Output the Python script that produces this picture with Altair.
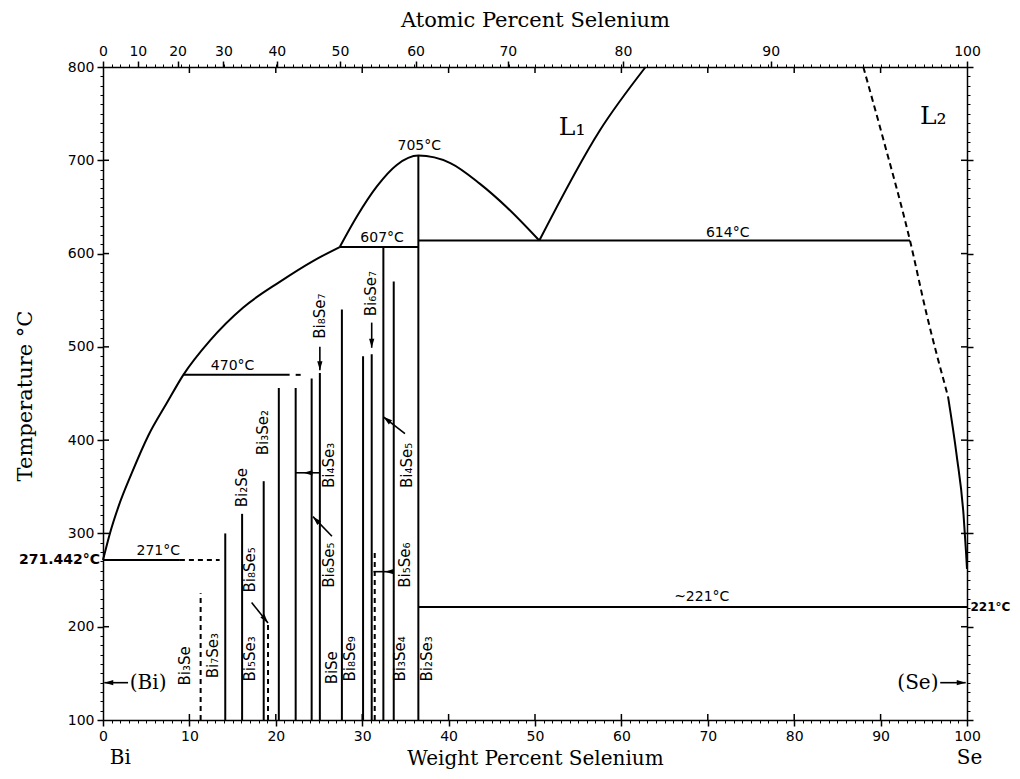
import math
import altair as alt
import pandas as pd

# ---------------- constants ----------------
M_SE, M_BI = 78.971, 208.980
W, H = 864, 653
X_DOM, Y_DOM = [0, 100], [100, 800]
PX_X = W / (X_DOM[1] - X_DOM[0])
PX_Y = H / (Y_DOM[1] - Y_DOM[0])

# ---------------- data ----------------
# liquidus / boundary curves (wt% Se, T in C)
liq_left_wt = [0, 0.8, 1.8, 3.3, 5.25, 7.4, 9.3, 12.4, 16.2, 20.5, 24.3, 27.4]
liq_left_T = [271.4, 300, 329, 364, 405, 440, 470, 507, 542, 570, 592, 607]
dome_wt = [27.4, 29.4, 31.7, 34.0, 36.5, 40.2, 43.6, 46.7, 50.5]
dome_T = [607, 640, 672, 695, 705, 697, 675, 650, 614]
l1_wt = [50.5, 57.5, 62.8]
l1_T = [614, 732, 800]
l2_solid_wt = [97.8, 98.8, 99.6, 99.9, 100]
l2_solid_T = [447, 384, 320, 278, 262]
l2_dash_wt = [88.0, 90.3, 93.4, 95.3, 97.8]
l2_dash_T = [800, 723, 614, 536, 447]

# isotherms (solid)
iso_T = [271.4, 470, 607, 614, 221]
iso_from = [0, 9.3, 27.4, 36.5, 36.5]
iso_to = [8.9, 21.6, 36.5, 93.4, 100]
# isotherms (dashed parts)
iso_dash_T = [271.4, 470]
iso_dash_from = [8.9, 22.3]
iso_dash_to = [13.5, 23.2]

# compound lines (solid)
comp_wt = [14.15, 16.1, 18.6, 20.35, 22.3, 24.15, 25.1, 27.65, 30.1, 31.1, 32.45, 33.65, 36.5]
comp_Tmax = [300, 321, 356, 456, 456, 466, 472, 540, 490, 492, 607, 570, 705]
# compound lines (dashed)
dash_comp_wt = [11.3, 19.1, 31.45]
dash_comp_Tmax = [236, 204, 280]

# arrows: tail -> tip, and arrowhead tip position
arrow_x1 = [25.1, 31.1, 22.3, 26.5, 34.95, 33.4, 17.2, 2.9, 96.9]
arrow_T1 = [500, 526, 365, 297, 407, 259, 226, 140, 140]
arrow_x2 = [25.1, 31.1, 25.1, 24.3, 32.45, 31.3, 19.1, 0.15, 99.85]
arrow_T2 = [475, 499, 365, 318, 425, 259, 204, 140, 140]
head_wt = [25.1, 31.1, 23.2, 24.3, 32.45, 32.6, 19.1, 0.15, 99.85]
head_T = [475, 499, 365, 318, 425, 259, 204, 140, 140]
head_from_wt = [25.1, 31.1, 25.1, 26.5, 34.95, 33.4, 17.2, 2.9, 96.9]
head_from_T = [500, 526, 365, 297, 407, 259, 226, 140, 140]

# annotations
ann_text = ["705°C", "607°C", "614°C", "470°C", "271°C", "~221°C"]
ann_wt = [36.6, 32.3, 72.3, 15.0, 6.4, 69.3]
ann_T = [715.5, 616.5, 622, 479.5, 281, 232]

side_left_text, side_left_wt, side_left_T = ["271.442°C"], [-0.35], [271.4]
side_right_text, side_right_wt, side_right_T = ["221°C"], [100.4], [221]

cmp_lbl = ["Bi₃Se", "Bi₇Se₃", "Bi₅Se₃", "BiSe", "Bi₈Se₉", "Bi₃Se₄", "Bi₂Se₃",
           "Bi₂Se", "Bi₈Se₅", "Bi₃Se₂", "Bi₈Se₇", "Bi₄Se₃", "Bi₆Se₅", "Bi₆Se₇",
           "Bi₄Se₅", "Bi₅Se₆"]
cmp_lbl_wt = [9.5, 12.7, 17.0, 26.5, 28.6, 34.4, 37.5,
              16.1, 17.0, 18.55, 25.1, 26.2, 26.2, 31.0,
              35.15, 34.95]
cmp_lbl_T = [158, 169, 165.5, 156, 165.5, 165.5, 165.5,
             349, 261, 408, 533, 373, 266, 557,
             373, 266]

liq_lbl, liq_lbl_wt, liq_lbl_T = ["L₁", "L₂"], [54.3, 96.1], [736, 747]
phase_left, phase_left_wt, phase_left_T = ["(Bi)"], [3.1], [140]
phase_right, phase_right_wt, phase_right_T = ["(Se)"], [96.7], [140]
elem_lbl, elem_wt, elem_T = ["Bi", "Se"], [2.0, 100.3], [59.5, 59.5]

wt_major = list(range(0, 101, 10))
wt_minor = list(range(0, 101, 1))
T_major = list(range(100, 801, 100))
T_minor = list(range(100, 801, 10))
atomic_major = list(range(0, 101, 10))
wt_inner = list(range(10, 100, 10))
T_inner = list(range(200, 800, 100))

# ---------------- tables ----------------
def curve_df(name, xs, ts):
    return pd.DataFrame({"wt": xs, "T": ts, "curve": name, "i": list(range(len(xs)))})

curves = pd.concat([
    curve_df("liq_left", liq_left_wt, liq_left_T),
    curve_df("dome", dome_wt, dome_T),
    curve_df("l1", l1_wt, l1_T),
    curve_df("l2s", l2_solid_wt, l2_solid_T),
])
dash_curve = curve_df("l2d", l2_dash_wt, l2_dash_T)

iso_df = pd.DataFrame({"x1": iso_from, "x2": iso_to, "T": iso_T})
vert_df = pd.DataFrame({"wt": comp_wt, "Tlo": [Y_DOM[0]] * len(comp_wt), "Thi": comp_Tmax})
dash_seg = pd.DataFrame({
    "x1": iso_dash_from + dash_comp_wt,
    "x2": iso_dash_to + dash_comp_wt,
    "y1": iso_dash_T + [Y_DOM[0]] * len(dash_comp_wt),
    "y2": iso_dash_T + dash_comp_Tmax,
})
arrow_df = pd.DataFrame({"x1": arrow_x1, "x2": arrow_x2, "y1": arrow_T1, "y2": arrow_T2})
angles = []
for a, b, c, d in zip(head_from_wt, head_from_T, head_wt, head_T):
    dx = (c - a) * PX_X
    dy = -(d - b) * PX_Y
    angles.append(math.degrees(math.atan2(dx, -dy)) % 360)
head_df = pd.DataFrame({"wt": head_wt, "T": head_T, "ang": angles})

tick_len_x = 6 / PX_X
tick_len_y = 6 / PX_Y
inner = pd.concat([
    pd.DataFrame({"x1": wt_inner, "x2": wt_inner, "y1": [Y_DOM[0]] * 9, "y2": [Y_DOM[0] + tick_len_y] * 9}),
    pd.DataFrame({"x1": wt_inner, "x2": wt_inner, "y1": [Y_DOM[1]] * 9, "y2": [Y_DOM[1] - tick_len_y] * 9}),
    pd.DataFrame({"x1": [X_DOM[0]] * 6, "x2": [X_DOM[0] + tick_len_x] * 6, "y1": T_inner, "y2": T_inner}),
    pd.DataFrame({"x1": [X_DOM[1]] * 6, "x2": [X_DOM[1] - tick_len_x] * 6, "y1": T_inner, "y2": T_inner}),
])

atomic_pos = [a * M_SE / (a * M_SE + (100 - a) * M_BI) * 100 for a in atomic_major]

# ---------------- axes ----------------
SANS = "DejaVu Sans"
SERIF = "DejaVu Serif"

ax_bottom = alt.Axis(orient="bottom", values=wt_major, tickSize=6, tickWidth=1.5, domainWidth=1.5,
                     labelPadding=3, labelFlush=False, labelOverlap=False,
                     title="Weight Percent Selenium", titleFont=SERIF, titleFontSize=20,
                     titleFontWeight="normal", titleX=W / 2, titleY=38, titleBaseline="middle",
                     titleAlign="center")
ax_bottom_minor = alt.Axis(orient="bottom", values=wt_minor, tickSize=3, tickWidth=1,
                           labels=False, domain=False, title=None)
ax_top = alt.Axis(orient="top", values=atomic_pos, tickSize=6, tickWidth=1.5, domainWidth=1.5,
                  labelPadding=3, labelFlush=False, labelOverlap=False,
                  labelExpr="format(100*(datum.value/78.971)/(datum.value/78.971+(100-datum.value)/208.98), '.0f')",
                  title="Atomic Percent Selenium", titleFont=SERIF, titleFontSize=21,
                  titleFontWeight="normal", titleX=W / 2, titleY=-47, titleBaseline="middle",
                  titleAlign="center")
ax_top_minor = alt.Axis(orient="top", values=wt_minor, tickSize=3, tickWidth=1,
                        labels=False, domain=False, title=None)
ax_left = alt.Axis(orient="left", values=T_major, tickSize=6, tickWidth=1.5, domainWidth=1.5,
                   labelPadding=3, labelOverlap=False,
                   title="Temperature °C", titleFont=SERIF, titleFontSize=21,
                   titleFontWeight="normal", titleX=-78, titleY=H / 2 + 2, titleAngle=270,
                   titleBaseline="middle", titleAlign="center")
ax_left_minor = alt.Axis(orient="left", values=T_minor, tickSize=3, tickWidth=1,
                         labels=False, domain=False, title=None)
ax_right = alt.Axis(orient="right", values=T_major, tickSize=6, tickWidth=1.5, domainWidth=1.5,
                    labels=False, title=None)
ax_right_minor = alt.Axis(orient="right", values=T_minor, tickSize=3, tickWidth=1,
                          labels=False, domain=False, title=None)

XS = alt.Scale(domain=X_DOM, nice=False, zero=False)
YS = alt.Scale(domain=Y_DOM, nice=False, zero=False)

def X(field, axis=None):
    return alt.X(f"{field}:Q", scale=XS, axis=axis)

def Y(field, axis=None):
    return alt.Y(f"{field}:Q", scale=YS, axis=axis)

# ---------------- layers ----------------
lay_curves = alt.Chart(curves).mark_line(color="black", strokeWidth=2, interpolate="monotone").encode(
    x=X("wt", ax_bottom), y=Y("T", ax_left), detail="curve:N", order="i:Q")

lay_vert = alt.Chart(vert_df).mark_rule(color="black", strokeWidth=2).encode(
    x=X("wt", ax_bottom_minor), y=Y("Tlo", ax_left_minor), y2="Thi:Q")

lay_iso = alt.Chart(iso_df).mark_rule(color="black", strokeWidth=2).encode(
    x=X("x1", ax_top), x2="x2:Q", y=Y("T", ax_right))

lay_dash = alt.Chart(dash_seg).mark_rule(color="black", strokeWidth=2, strokeDash=[5, 4]).encode(
    x=X("x1", ax_top_minor), x2="x2:Q", y=Y("y1", ax_right_minor), y2="y2:Q")

lay_dash_curve = alt.Chart(dash_curve).mark_line(color="black", strokeWidth=2, strokeDash=[6, 4],
                                                  interpolate="monotone").encode(
    x=X("wt"), y=Y("T"), order="i:Q")

lay_arrows = alt.Chart(arrow_df).mark_rule(color="black", strokeWidth=1.6).encode(
    x=X("x1"), x2="x2:Q", y=Y("y1"), y2="y2:Q")

lay_heads = alt.Chart(head_df).mark_point(shape="M0,0L0.7,2.4L-0.7,2.4Z", filled=True, size=56,
                                          color="black", opacity=1, strokeWidth=0).encode(
    x=X("wt"), y=Y("T"), angle=alt.Angle("ang:Q", scale=None))

lay_inner = alt.Chart(inner).mark_rule(color="black", strokeWidth=1.5).encode(
    x=X("x1"), x2="x2:Q", y=Y("y1"), y2="y2:Q")

def text_layer(texts, xs, ts, **mark):
    df = pd.DataFrame({"t": texts, "wt": xs, "T": ts})
    return alt.Chart(df).mark_text(color="black", **mark).encode(x=X("wt"), y=Y("T"), text="t:N")

lay_ann = text_layer(ann_text, ann_wt, ann_T, font=SANS, fontSize=14, align="center", baseline="middle")
lay_side_l = text_layer(side_left_text, side_left_wt, side_left_T, font=SANS, fontSize=14,
                        fontWeight="bold", align="right", baseline="middle")
lay_side_r = text_layer(side_right_text, side_right_wt, side_right_T, font=SANS, fontSize=12,
                        fontWeight="bold", align="left", baseline="middle")
lay_cmp = text_layer(cmp_lbl, cmp_lbl_wt, cmp_lbl_T, font=SANS, fontSize=15, angle=270,
                     align="center", baseline="middle")
lay_liq = text_layer(liq_lbl, liq_lbl_wt, liq_lbl_T, font=SERIF, fontSize=25, align="center",
                     baseline="middle")
lay_ph_l = text_layer(phase_left, phase_left_wt, phase_left_T, font=SERIF, fontSize=20,
                      align="left", baseline="middle")
lay_ph_r = text_layer(phase_right, phase_right_wt, phase_right_T, font=SERIF, fontSize=20,
                      align="right", baseline="middle")
lay_elem = text_layer(elem_lbl, elem_wt, elem_T, font=SERIF, fontSize=20, align="center",
                      baseline="middle")

chart = alt.layer(
    lay_curves, lay_vert, lay_iso, lay_dash, lay_dash_curve, lay_arrows, lay_heads, lay_inner,
    lay_ann, lay_side_l, lay_side_r, lay_cmp, lay_liq, lay_ph_l, lay_ph_r, lay_elem,
).resolve_axis(x="independent", y="independent").properties(
    width=W, height=H, autosize="none",
    padding={"left": 95, "top": 59, "right": 45, "bottom": 51},
    background="white",
).configure_view(stroke=None).configure_axis(
    grid=False, labelFont=SANS, labelFontSize=14, labelColor="black", tickColor="black",
    domainColor="black", titleColor="black",
)

chart.save("out.html", embed_options={"renderer": "svg", "actions": False})
